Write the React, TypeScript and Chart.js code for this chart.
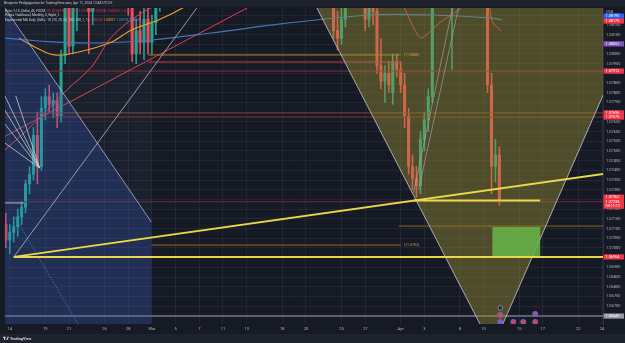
import React, { useEffect, useRef } from 'react';
import { Chart, registerables } from 'chart.js';

Chart.register(...registerables);

type P = [number, number];

// ---------------- data ----------------
// x = trading-day index counted from 14 Feb 2024 (fractions = 8h candles), y = EUR/USD price
const xTickIdx = [0, 3, 5, 8, 10, 12, 14, 16, 18, 20, 23, 25, 28, 30, 33, 35, 38, 40, 43, 45, 48, 50];
const xTickLabels = ['14', '19', '21', '26', '28', 'Mar', '5', '7', '11', '13', '18', '20', '25', '27', 'Apr', '3', '8', '10', '15', '17', '22', '24'];
const priceTicks = [1.0665, 1.067, 1.0675, 1.068, 1.0685, 1.069, 1.0695, 1.07, 1.0705, 1.071, 1.0715, 1.072, 1.0725, 1.073, 1.0735, 1.074, 1.0745, 1.075, 1.0755, 1.076, 1.0765, 1.077, 1.0775, 1.078, 1.0785, 1.079, 1.0795, 1.08, 1.0805, 1.081, 1.0815, 1.082];
const xRange: P = [-0.42, 50.08];
const yRange: P = [1.06608, 1.08237];

// [time, open, high, low, close]
const candlesFeb: number[][] = [
  [-0.33, 1.0712, 1.0718, 1.0700, 1.0704],
  [0.00, 1.0704, 1.0712, 1.0697, 1.0708],
  [0.33, 1.0708, 1.0716, 1.0703, 1.0711],
  [0.67, 1.0711, 1.0720, 1.0706, 1.0716],
  [1.00, 1.0716, 1.0724, 1.0712, 1.0721],
  [1.33, 1.0721, 1.0735, 1.0718, 1.0733],
  [1.67, 1.0733, 1.0742, 1.0728, 1.0738],
  [2.00, 1.0738, 1.0762, 1.0735, 1.0758],
  [2.33, 1.0758, 1.0770, 1.0733, 1.0742],
  [2.67, 1.0742, 1.0778, 1.0740, 1.0772],
  [3.00, 1.0772, 1.0782, 1.0766, 1.0778],
  [3.33, 1.0778, 1.0784, 1.0770, 1.0774],
  [3.67, 1.0774, 1.0780, 1.0767, 1.0776],
  [4.00, 1.0776, 1.0780, 1.0762, 1.0768],
  [4.33, 1.0768, 1.0802, 1.0765, 1.0799],
  [4.67, 1.0799, 1.0830, 1.0795, 1.0826],
  [5.00, 1.0826, 1.0834, 1.0800, 1.0804],
  [5.33, 1.0804, 1.0828, 1.0800, 1.0824],
  [5.67, 1.0824, 1.0838, 1.0812, 1.0830],
  [6.00, 1.0830, 1.0860, 1.0826, 1.0852],
  [6.33, 1.0852, 1.0888, 1.0830, 1.0835],
  [6.67, 1.0838, 1.0845, 1.0800, 1.0822],
  [7.00, 1.0822, 1.0845, 1.0815, 1.0840],
  [7.33, 1.0840, 1.0856, 1.0832, 1.0848],
  [7.67, 1.0848, 1.0853, 1.0826, 1.0832],
  [8.00, 1.0832, 1.0850, 1.0828, 1.0846],
  [8.33, 1.0846, 1.0862, 1.0838, 1.0855],
  [8.67, 1.0855, 1.0865, 1.0845, 1.0850],
  [9.00, 1.0850, 1.0866, 1.0840, 1.0846],
  [9.33, 1.0846, 1.0858, 1.0834, 1.0840],
  [9.67, 1.0840, 1.0850, 1.0828, 1.0836],
  [10.00, 1.0836, 1.0840, 1.0820, 1.0826],
  [10.33, 1.0826, 1.0830, 1.0796, 1.0800],
  [10.67, 1.0800, 1.0818, 1.0795, 1.0812],
  [11.00, 1.0812, 1.0822, 1.0800, 1.0806],
  [11.33, 1.0806, 1.0826, 1.0797, 1.0818],
  [11.67, 1.0818, 1.0824, 1.0800, 1.0806],
  [12.00, 1.0806, 1.0820, 1.0800, 1.0816],
  [12.33, 1.0816, 1.0830, 1.0810, 1.0826],
  [12.67, 1.0826, 1.0856, 1.0822, 1.0850],
];
const candlesApr: number[][] = [
  [27.00, 1.0862, 1.0868, 1.0830, 1.0838],
  [27.33, 1.0838, 1.0845, 1.0808, 1.0812],
  [27.67, 1.0812, 1.0822, 1.0802, 1.0808],
  [28.00, 1.0808, 1.0824, 1.0805, 1.0818],
  [28.33, 1.0818, 1.0838, 1.0814, 1.0834],
  [28.67, 1.0834, 1.0842, 1.0826, 1.0838],
  [29.00, 1.0838, 1.0860, 1.0832, 1.0852],
  [29.33, 1.0852, 1.0864, 1.0838, 1.0842],
  [29.67, 1.0842, 1.0848, 1.0826, 1.0830],
  [30.00, 1.0830, 1.0840, 1.0812, 1.0818],
  [30.33, 1.0818, 1.0834, 1.0814, 1.0826],
  [30.67, 1.0826, 1.0832, 1.0815, 1.0822],
  [31.00, 1.0822, 1.0828, 1.0790, 1.0794],
  [31.33, 1.0794, 1.0808, 1.0782, 1.0786],
  [31.67, 1.0786, 1.0794, 1.0775, 1.0790],
  [32.00, 1.0790, 1.0796, 1.0780, 1.0784],
  [32.33, 1.0780, 1.0800, 1.0774, 1.0796],
  [32.67, 1.0796, 1.0800, 1.0788, 1.0792],
  [33.00, 1.0792, 1.0796, 1.0780, 1.0784],
  [33.33, 1.0784, 1.0790, 1.0762, 1.0768],
  [33.67, 1.0768, 1.0772, 1.0738, 1.0742],
  [34.00, 1.0742, 1.0748, 1.0730, 1.0736],
  [34.33, 1.0736, 1.0742, 1.0726, 1.0732],
  [34.67, 1.0732, 1.0760, 1.0728, 1.0756],
  [35.00, 1.0756, 1.0770, 1.0750, 1.0766],
  [35.33, 1.0766, 1.0782, 1.0760, 1.0778],
  [35.67, 1.0778, 1.0840, 1.0775, 1.0832],
  [36.00, 1.0832, 1.0850, 1.0826, 1.0846],
  [36.33, 1.0846, 1.0865, 1.0840, 1.0858],
  [36.67, 1.0858, 1.0876, 1.0850, 1.0836],
  [37.00, 1.0836, 1.0846, 1.0824, 1.0830],
  [37.33, 1.0830, 1.0842, 1.0792, 1.0838],
  [37.67, 1.0838, 1.0850, 1.0830, 1.0844],
  [38.00, 1.0844, 1.0856, 1.0834, 1.0848],
  [38.33, 1.0848, 1.0862, 1.0840, 1.0856],
  [38.67, 1.0856, 1.0866, 1.0848, 1.0860],
  [39.00, 1.0860, 1.0874, 1.0852, 1.0866],
  [39.33, 1.0866, 1.0885, 1.0860, 1.0876],
  [39.67, 1.0876, 1.0882, 1.0856, 1.0860],
  [40.00, 1.0860, 1.0868, 1.0850, 1.0858],
  [40.33, 1.0858, 1.0862, 1.0780, 1.0784],
  [40.67, 1.0784, 1.0790, 1.0728, 1.0742],
  [41.00, 1.0742, 1.0756, 1.0734, 1.0748],
  [41.33, 1.0748, 1.0752, 1.0722, 1.07238],
];

// moving averages
const maFastA: P[] = [[-0.42, 1.07505], [1.01, 1.07582], [2.95, 1.07696], [4.8, 1.07814], [6.9, 1.07933], [8.59, 1.08088], [11.11, 1.08211], [13.4, 1.08278]];
const maFastB: P[] = [[32.15, 1.0833], [33.25, 1.08242], [34.68, 1.08082], [36.36, 1.08165], [38.2, 1.08242], [39.0, 1.0832], [40.2, 1.0832], [40.74, 1.08165], [41.45, 1.0812]];
const maMid: P[] = [[0.76, 1.08082], [2.27, 1.08031], [3.79, 1.07995], [5.81, 1.0801], [8.59, 1.08062], [10.27, 1.08124], [12.54, 1.08175], [14.73, 1.08242], [16.16, 1.08304]];
const maSlow: P[] = [[-0.42, 1.08082], [3.54, 1.08062], [7.74, 1.08057], [11.95, 1.08072], [17.0, 1.08108], [22.9, 1.08155], [30.47, 1.08201], [35.52, 1.08201], [40.57, 1.08186], [41.58, 1.08175]];

// horizontal levels
const levelsFull = [1.07912, 1.07696, 1.07675, 1.07238];
const fibTop: P[] = [[11.7, 1.07995], [33.0, 1.07995]];
const redLevel: P[] = [[11.7, 1.07959], [33.0, 1.07959]];
const fibLow: P[] = [[11.95, 1.07015], [33.0, 1.07015]];
const targetLevel: P[] = [[32.83, 1.07113], [50.08, 1.07113]];
const supportLevel: P[] = [[0.34, 1.06954], [50.08, 1.06954]];
const lowLevel: P[] = [[34.09, 1.07245], [44.78, 1.07245]];
const bottomLevel: P[] = [[-0.42, 1.06649], [50.08, 1.06649]];
const shortMark: P[] = [[-0.42, 1.07232], [1.18, 1.07232]];

// trend lines
const trendUp: P[] = [[0.34, 1.06954], [50.08, 1.07381]];
const redTrend: P[] = [[-0.42, 1.07575], [20.03, 1.08237]];
const grayUp: P[] = [[0.34, 1.06954], [15.79, 1.08237]];
const grayDown: P[] = [[-0.42, 1.08237], [11.95, 1.07134]];
const fanOrigin: P = [2.525, 1.07412];
const fanEnds: P[] = [[-0.42, 1.07784], [-0.42, 1.07711], [-0.42, 1.07639], [-0.42, 1.07541], [0.505, 1.07784]];
const channelA: P[] = [[34.09, 1.07284], [37.37, 1.08237]];
const channelB: P[] = [[34.51, 1.07299], [37.88, 1.08237]];
const dottedLine: P[] = [[0.42, 1.0716], [5.81, 1.06603]];

// shapes
const triangle: P[] = [[25.36, 1.08304], [40.74, 1.064845], [53.79, 1.08304]];
const blueZone: P[] = [[-0.42, 1.08237], [11.95, 1.07134], [11.95, 1.0655], [-0.42, 1.0655]];
const paleZone: P[] = [[-0.42, 1.0830], [11.95, 1.0830], [11.95, 1.0655], [-0.42, 1.0655]];
const targetBox: P[] = [[40.74, 1.06954], [44.78, 1.06954], [44.78, 1.07108], [40.74, 1.07108]];

// events at bottom
const events: P[] = [[41.41, 1.06691], [41.41, 1.06655], [41.41, 1.06619], [42.51, 1.06619], [43.35, 1.06619], [44.36, 1.0666], [44.36, 1.06619]];

// fib labels
const fibLabelX = 33.25;
const fibLabelValues = [1.07995, 1.07015];
const fibLabelTexts = ['1(1.0800)', '1(1.0702)'];

// price axis tags
const tagValues = [1.08195, 1.0817, 1.08052, 1.07912, 1.07696, 1.07675, 1.07262, 1.07238, 1.07215, 1.06954, 1.06649];
const tagTexts = ['1.08195', '1.08170', '1.08052', '1.07912', '1.07696', '1.07675', '1.07262', '1.07238', '00:11:12', '1.06954', '1.06649'];

// ---------------- styles ----------------
const FONT = 'Roboto, "Liberation Sans", sans-serif';
const BG = '#161a25';
const UP = '#1fa88f';
const DOWN = '#f04a5a';
const tagColors = ['#2962ff', '#f23645', '#7e57c2', '#f23645', '#f23645', '#f23645', '#f23645', '#f23645', '#f23645', '#f23645', '#9598a1'];
const levelColors = ['#8e2a35', '#7a4034', '#7a3a30', '#6e2b45'];

const toXY = (pts: P[]) => pts.map(([x, y]) => ({ x, y }));

const line = (pts: P[], color: string, width: number, order: number, extra: any = {}) => ({
  type: 'line',
  data: toXY(pts),
  borderColor: color,
  borderWidth: width,
  pointRadius: 0,
  fill: false,
  tension: 0,
  order,
  ...extra,
});

const poly = (pts: P[], fillColor: string, order: number, border = 'rgba(0,0,0,0)', bw = 0) => ({
  type: 'line',
  data: toXY(pts),
  backgroundColor: fillColor,
  borderColor: border,
  borderWidth: bw,
  fill: 'shape',
  pointRadius: 0,
  tension: 0,
  order,
});

function drawSegments(ctx: CanvasRenderingContext2D, x: number, y: number, segs: [string, string][]) {
  let cx = x;
  for (const [t, c] of segs) {
    ctx.fillStyle = c;
    ctx.fillText(t, cx, y);
    cx += ctx.measureText(t).width;
  }
}

const decor = {
  id: 'decor',
  beforeDraw(chart: any) {
    const { ctx, width, height } = chart;
    ctx.save();
    ctx.fillStyle = BG;
    ctx.fillRect(0, 0, width, height);
    ctx.fillStyle = '#1e222d';
    ctx.fillRect(0, 0, width, 7);
    ctx.fillRect(0, 334, width, height - 334);
    ctx.restore();
  },
  afterDatasetsDraw(chart: any) {
    const { ctx, scales } = chart;
    ctx.save();
    ctx.font = `3.6px ${FONT}`;
    ctx.textBaseline = 'middle';
    ctx.fillStyle = '#c9a23e';
    fibLabelValues.forEach((v, i) => {
      ctx.fillText(fibLabelTexts[i], scales.x.getPixelForValue(fibLabelX), scales.y.getPixelForValue(v));
    });
    ctx.restore();
  },
  afterDraw(chart: any) {
    const { ctx, scales, chartArea, width } = chart;
    ctx.save();
    // price tags
    ctx.font = `3.8px ${FONT}`;
    ctx.textBaseline = 'middle';
    tagValues.forEach((v, i) => {
      const y = scales.y.getPixelForValue(v);
      ctx.fillStyle = tagColors[i];
      ctx.fillRect(chartArea.right + 0.5, y - 2.6, width - chartArea.right - 1.5, 5.2);
      ctx.fillStyle = '#ffffff';
      ctx.fillText(tagTexts[i], chartArea.right + 2.5, y + 0.2);
    });
    // currency label
    ctx.fillStyle = '#b2b5be';
    ctx.fillText('USD', chartArea.right + 3, 12);
    // header
    ctx.font = `3.4px ${FONT}`;
    ctx.fillStyle = '#c8cad2';
    ctx.fillText('Benjamin Pedigagoulan for TradingView.com, Apr 11, 2024 12:48 UTC+2', 4, 3.6);
    ctx.font = `3.3px ${FONT}`;
    drawSegments(ctx, 5, 11, [
      ['Euro / U.S. Dollar, 4h, FXCM  ', '#d1d4dc'],
      ['O1.07259 H1.07285 L1.07218 C1.07238 \u22120.00021 (\u22120.02%)', '#f23645'],
    ]);
    drawSegments(ctx, 5, 15.6, [['Pivots Traditional, Monthly, 3, Right, 1', '#d1d4dc']]);
    drawSegments(ctx, 5, 20, [
      ['Exponential MA Daily (D4h) \u00b7 10 (10, 20, 50, 100, 200, 1, 1)  ', '#d1d4dc'],
      ['1.08156 ', '#f23645'],
      ['1.08037 ', '#ff9800'],
      ['1.08108 ', '#26a69a'],
      ['1.08325', '#5b9cf6'],
    ]);
    // footer logo
    ctx.fillStyle = '#d1d4dc';
    ctx.fillRect(3, 336.8, 2.6, 1.1);
    ctx.fillRect(4, 336.8, 1.1, 3.2);
    ctx.beginPath();
    ctx.moveTo(6.2, 340);
    ctx.lineTo(7.6, 336.8);
    ctx.lineTo(9.0, 336.8);
    ctx.lineTo(7.4, 340);
    ctx.closePath();
    ctx.fill();
    ctx.font = `bold 3.8px ${FONT}`;
    ctx.fillText('TradingView', 10, 338.6);
    ctx.restore();
  },
};

export default function App() {
  const ref = useRef<HTMLCanvasElement>(null);

  useEffect(() => {
    const canvas = ref.current;
    if (!canvas) return;
    const all = [...candlesFeb, ...candlesApr];
    const colors = all.map((c) => (c[4] >= c[1] ? UP : DOWN));

    const datasets: any[] = [
      // top layer
      line(supportLevel, '#e8d84a', 2, 1),
      line(trendUp, '#e8d84a', 2, 1),
      line(lowLevel, '#e8d84a', 2, 1),
      line(grayUp, 'rgba(190,193,200,0.75)', 1, 1),
      line(grayDown, 'rgba(190,193,200,0.75)', 1, 1),
      ...fanEnds.map((e) => line([fanOrigin, e], 'rgba(210,212,218,0.75)', 1, 1)),
      line(channelA, 'rgba(170,172,180,0.6)', 1, 1),
      line(channelB, 'rgba(170,172,180,0.6)', 1, 1),
      line(shortMark, 'rgba(210,212,218,0.8)', 1, 1),
      {
        type: 'line',
        data: toXY(events),
        showLine: false,
        pointRadius: 2.6,
        pointStyle: ['rectRounded', 'circle', 'circle', 'circle', 'circle', 'circle', 'circle'],
        pointBackgroundColor: ['#2a2e39', '#d8434f', '#4a6cf0', '#d8434f', '#d8434f', '#4a6cf0', '#d8434f'],
        pointBorderColor: ['#9598a1', '#4a6cf0', '#d8434f', '#4a6cf0', '#4a6cf0', '#d8434f', '#4a6cf0'],
        pointBorderWidth: 0.8,
        order: 1,
      },
      poly(targetBox, 'rgba(104,182,74,0.85)', 2),
      poly(triangle, 'rgba(157,146,50,0.42)', 3, 'rgba(200,202,210,0.8)', 1),
      poly(blueZone, 'rgba(50,100,220,0.22)', 4),
      poly(paleZone, 'rgba(130,150,190,0.05)', 5),
      // indicator / level layer
      line(maFastA, '#e8414f', 1, 6, { tension: 0.35 }),
      line(maFastB, '#e8414f', 1, 6, { tension: 0.2 }),
      line(maMid, '#f0a020', 1.2, 6, { tension: 0.35 }),
      line(maSlow, '#4178b8', 1.2, 6, { tension: 0.35 }),
      line(redTrend, '#e0404f', 1, 6),
      line(redLevel, '#d0343f', 1, 6),
      line(fibTop, '#b8862a', 1, 6),
      line(fibLow, '#9c6b1c', 1, 6),
      line(targetLevel, '#8a6420', 1, 6),
      line(bottomLevel, '#5d606b', 2, 6),
      line(dottedLine, '#3a7ca5', 1, 6, { borderDash: [1.5, 1.5] }),
      ...levelsFull.map((v, i) => line([[xRange[0], v], [xRange[1], v]], levelColors[i], 1, 6)),
      // candles
      {
        type: 'bar',
        data: all.map((c) => ({ x: c[0], y: [c[1], c[4] === c[1] ? c[1] + 0.00002 : c[4]] })),
        backgroundColor: colors,
        barThickness: 2.4,
        grouped: false,
        borderWidth: 0,
        order: 8,
      },
      {
        type: 'bar',
        data: all.map((c) => ({ x: c[0], y: [c[3], c[2]] })),
        backgroundColor: colors,
        barThickness: 0.9,
        grouped: false,
        borderWidth: 0,
        order: 9,
      },
    ];

    const chart = new Chart(canvas, {
      type: 'bar',
      data: { datasets },
      options: {
        responsive: false,
        animation: false,
        devicePixelRatio: 1,
        events: [],
        layout: { padding: { left: 3, top: 8, right: 0, bottom: 0 } },
        plugins: { legend: { display: false }, tooltip: { enabled: false } },
        scales: {
          x: {
            type: 'linear',
            position: 'bottom',
            min: xRange[0],
            max: xRange[1],
            bounds: 'data',
            offset: false,
            grid: { color: 'rgba(60,64,76,0.35)', drawTicks: false, offset: false },
            border: { display: false },
            ticks: {
              autoSkip: false,
              maxRotation: 0,
              padding: 3,
              color: '#b2b5be',
              font: { size: 4, family: FONT },
              callback: (_v: any, i: number) => xTickLabels[i] ?? '',
            },
            afterBuildTicks: (s: any) => {
              s.ticks = xTickIdx.map((v) => ({ value: v }));
            },
            afterFit: (s: any) => {
              s.height = 19;
            },
          },
          y: {
            type: 'linear',
            position: 'right',
            min: yRange[0],
            max: yRange[1],
            bounds: 'data',
            beginAtZero: false,
            grid: { color: 'rgba(60,64,76,0.35)', drawTicks: false },
            border: { display: true, color: '#2a2e39' },
            ticks: {
              padding: 3,
              color: '#b2b5be',
              font: { size: 4, family: FONT },
              callback: (v: any) => Number(v).toFixed(5),
            },
            afterBuildTicks: (s: any) => {
              s.ticks = priceTicks.map((v) => ({ value: v }));
            },
            afterFit: (s: any) => {
              s.width = 22;
            },
          },
        },
      } as any,
      plugins: [decor as any],
    } as any);

    return () => chart.destroy();
  }, []);

  return (
    <div style={{ position: 'fixed', left: 0, top: 0, width: 625, height: 343, background: BG }}>
      <canvas ref={ref} width={625} height={343} style={{ display: 'block', width: 625, height: 343 }} />
    </div>
  );
}
